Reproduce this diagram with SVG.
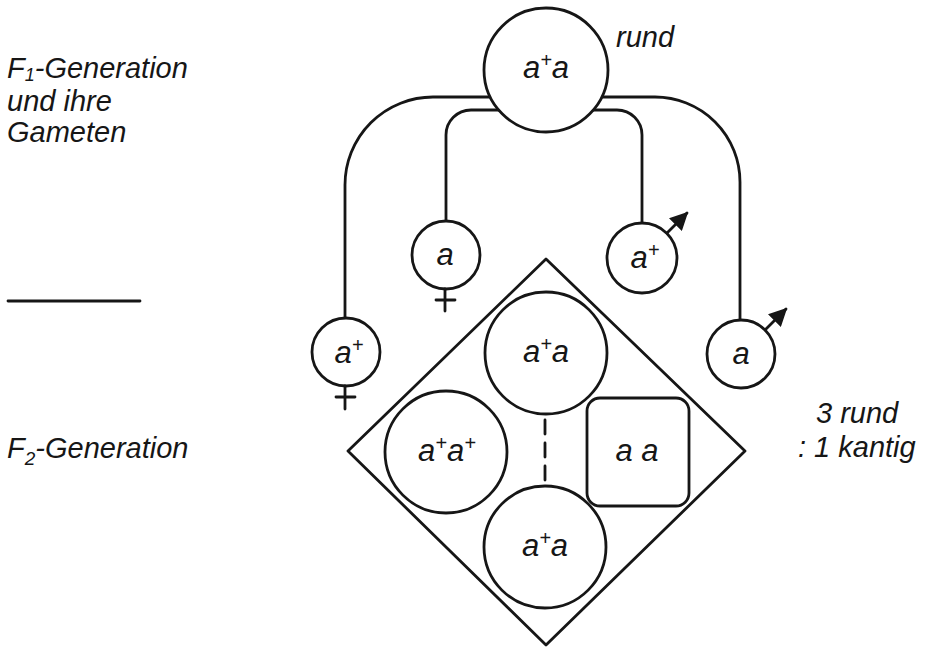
<svg xmlns="http://www.w3.org/2000/svg" width="935" height="654" viewBox="0 0 935 654">
<style>
.s{fill:none;stroke:#161616;stroke-width:2.8;stroke-linecap:round;stroke-linejoin:round}
.n{fill:#fff;stroke:#161616;stroke-width:2.8}
.t{font-family:"Liberation Sans",Arial,sans-serif;font-style:italic;fill:#161616;font-size:29px}
.l{font-family:"Liberation Sans",Arial,sans-serif;font-style:italic;fill:#161616;font-size:31px;text-anchor:middle}
.sup{font-size:20px}
</style>
<defs>
<marker id="arr" viewBox="0 0 10 10" refX="9" refY="5" markerWidth="6.5" markerHeight="6.5" orient="auto" markerUnits="strokeWidth">
<path d="M0,0 L10,5 L0,10 Z" fill="#161616"/>
</marker>
</defs>
<rect width="935" height="654" fill="#fff"/>

<g id="labels">
<text class="t" x="7" y="78">F<tspan font-size="18" dy="3">1</tspan><tspan dy="-3">-Generation</tspan></text>
<text class="t" x="7" y="111">und ihre</text>
<text class="t" x="7" y="142">Gameten</text>
<line class="s" x1="8" y1="301" x2="140" y2="301"/>
<text class="t" x="7" y="458">F<tspan font-size="19" dy="7">2</tspan><tspan dy="-7">-Generation</tspan></text>
<text class="t" x="616" y="47">rund</text>
<text class="t" x="816" y="423">3 rund</text>
<text class="t" x="798" y="457">: 1 kantig</text>
</g>

<g id="connectors">
<path class="s" d="M490,97 H433 A88,88 0 0 0 345,185 V318"/>
<path class="s" d="M499,110 H471 A25,25 0 0 0 446,135 V221"/>
<path class="s" d="M593,110 H617 A25,25 0 0 1 642,135 V223"/>
<path class="s" d="M602,97 H655 A85,85 0 0 1 740,182 V320"/>
</g>

<g id="f1">
<circle class="n" cx="546" cy="70" r="62"/>
<text class="l" x="546" y="78">a<tspan class="sup" dy="-11">+</tspan><tspan dy="11">a</tspan></text>
</g>

<g id="gamete-female-aplus">
<circle class="n" cx="346" cy="352" r="34"/>
<text class="l" x="349" y="363">a<tspan class="sup" dy="-11">+</tspan></text>
<path class="s" d="M345,386 V409 M336,397 H355"/>
</g>

<g id="gamete-female-a">
<circle class="n" cx="446" cy="255" r="34"/>
<text class="l" x="445" y="265">a</text>
<path class="s" d="M445,289 V311 M436,300 H455"/>
</g>

<g id="gamete-male-aplus">
<circle class="n" cx="642" cy="258" r="35"/>
<text class="l" x="645" y="268">a<tspan class="sup" dy="-11">+</tspan></text>
<line class="s" x1="667" y1="233" x2="687" y2="213" marker-end="url(#arr)"/>
</g>

<g id="gamete-male-a">
<circle class="n" cx="741" cy="354" r="34"/>
<text class="l" x="741" y="364">a</text>
<line class="s" x1="765" y1="330" x2="786" y2="309" marker-end="url(#arr)"/>
</g>

<g id="f2">
<polygon class="s" points="546,259 745,451 546,645 348,451"/>
</g>

<g id="f2-top">
<circle class="n" cx="546" cy="353" r="61"/>
<text class="l" x="546" y="362">a<tspan class="sup" dy="-11">+</tspan><tspan dy="11">a</tspan></text>
</g>

<g id="f2-left">
<circle class="n" cx="446" cy="452" r="61"/>
<text class="l" x="447" y="461">a<tspan class="sup" dy="-11">+</tspan><tspan dy="11">a</tspan><tspan class="sup" dy="-11">+</tspan></text>
</g>

<g id="f2-bottom">
<circle class="n" cx="545" cy="547" r="61"/>
<text class="l" x="545" y="556">a<tspan class="sup" dy="-11">+</tspan><tspan dy="11">a</tspan></text>
</g>

<g id="f2-right">
<rect class="n" x="587" y="398" width="102" height="108" rx="13"/>
<text class="l" x="637" y="461">a a</text>
</g>

<g id="divider">
<line class="s" x1="545" y1="420" x2="545" y2="482" stroke-dasharray="14,9"/>
</g>
</svg>
